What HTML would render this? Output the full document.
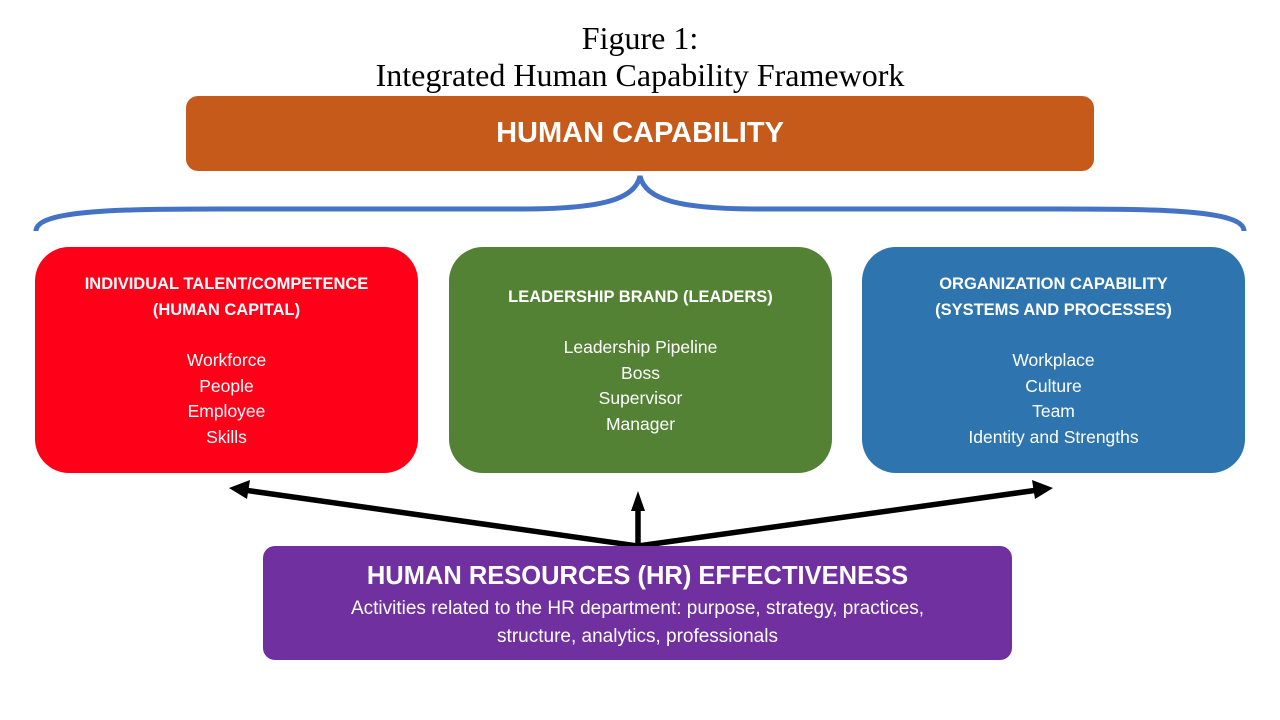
<!DOCTYPE html>
<html><head><meta charset="utf-8"><style>
body{margin:0;width:1280px;height:720px;background:#fff;position:relative;overflow:hidden;font-family:"Liberation Sans",sans-serif}
.a{position:absolute;text-align:center;color:#fff}
.box{position:absolute;border-radius:34px;top:247px;width:383px;height:226px}
.h{font-weight:bold;font-size:16.5px;line-height:26px}
.it{font-size:17.5px;line-height:25.7px}
</style></head><body>
<div class="a" style="left:0;width:1280px;top:20px;color:#000;font-family:'Liberation Serif',serif;font-size:32px;line-height:37px">Figure 1:<br>Integrated Human Capability Framework</div>
<div class="a" style="left:186px;top:96px;width:908px;height:75px;background:#C55A1A;border-radius:12px;font-weight:bold;font-size:29px;line-height:75px">HUMAN CAPABILITY</div>
<svg style="position:absolute;left:0;top:0" width="1280" height="720">
<path d="M36,231 C36,210 120,209 220,209 L520,209 C600,209 635,200 640,176 C645,200 680,209 760,209 L1060,209 C1160,209 1244,210 1244,231" fill="none" stroke="#4472C4" stroke-width="5"/>
<g stroke="#000" stroke-width="5.5" fill="none">
<line x1="638" y1="546" x2="244" y2="490"/>
<line x1="638" y1="546" x2="1038" y2="490"/>
<line x1="638" y1="546" x2="638" y2="508"/>
</g>
<g fill="#000">
<polygon points="229,488 250,480 247,499"/>
<polygon points="1053,488 1032,480 1035,499"/>
<polygon points="638,491 631,511 645,511"/>
</g>
</svg>
<div class="box a" style="left:35px;background:#FF0019"><div class="h" style="margin-top:24px">INDIVIDUAL TALENT/COMPETENCE<br>(HUMAN CAPITAL)</div><div class="it" style="margin-top:25px">Workforce<br>People<br>Employee<br>Skills</div></div>
<div class="box a" style="left:449px;background:#548235"><div class="h" style="margin-top:37px">LEADERSHIP BRAND (LEADERS)</div><div class="it" style="margin-top:25px">Leadership Pipeline<br>Boss<br>Supervisor<br>Manager</div></div>
<div class="box a" style="left:862px;background:#2E75B0"><div class="h" style="margin-top:24px">ORGANIZATION CAPABILITY<br>(SYSTEMS AND PROCESSES)</div><div class="it" style="margin-top:25px">Workplace<br>Culture<br>Team<br>Identity and Strengths</div></div>
<div class="a" style="left:263px;top:546px;width:749px;height:114px;background:#7030A0;border-radius:12px">
<div style="font-weight:bold;font-size:25.5px;line-height:30px;margin-top:15px">HUMAN RESOURCES (HR) EFFECTIVENESS</div>
<div style="font-size:19px;line-height:28px;margin-top:4px">Activities related to the HR department: purpose, strategy, practices,<br>structure, analytics, professionals</div></div>
</body></html>
